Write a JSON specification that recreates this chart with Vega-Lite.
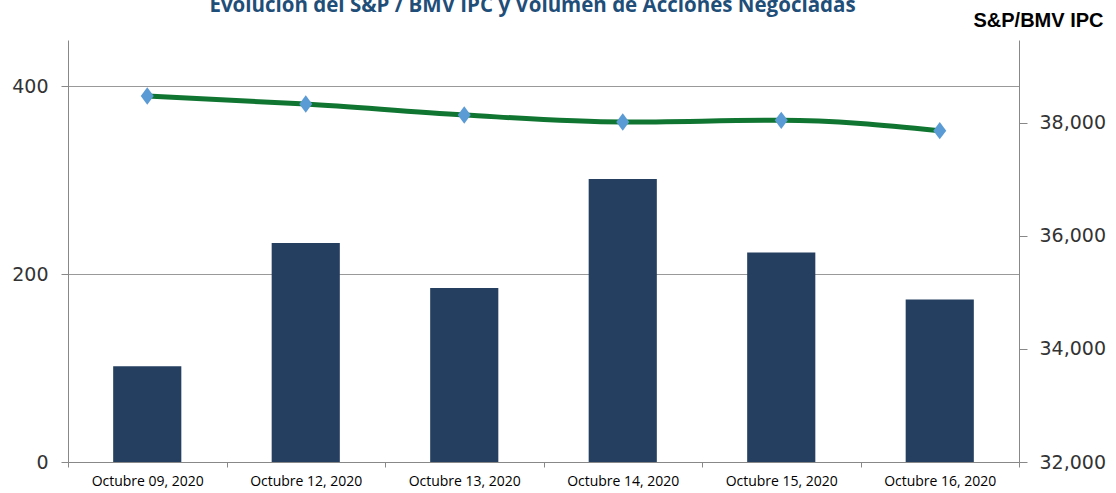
{
  "$schema": "https://vega.github.io/schema/vega-lite/v6.json",
  "width": 951,
  "height": 422,
  "autosize": {"type": "none"},
  "padding": {"left": 68, "top": 40, "right": 97, "bottom": 31},
  "background": "white",
  "title": {
    "text": "Evolución del S&P / BMV IPC y Volumen de Acciones Negociadas",
    "font": "Open Sans",
    "fontSize": 20.5,
    "fontWeight": "bold",
    "color": "#1F4E79",
    "anchor": "middle",
    "frame": "group",
    "baseline": "alphabetic",
    "offset": -2,
    "dx": -11,
    "dy": 20
  },
  "data": {
    "values": [
      {"fecha": "Octubre 09, 2020", "volumen": 102, "ipc": 38478},
      {"fecha": "Octubre 12, 2020", "volumen": 233, "ipc": 38336},
      {"fecha": "Octubre 13, 2020", "volumen": 185, "ipc": 38142},
      {"fecha": "Octubre 14, 2020", "volumen": 301, "ipc": 38018},
      {"fecha": "Octubre 15, 2020", "volumen": 223, "ipc": 38048},
      {"fecha": "Octubre 16, 2020", "volumen": 173, "ipc": 37864}
    ]
  },
  "encoding": {
    "x": {
      "field": "fecha",
      "type": "nominal",
      "sort": null,
      "scale": {"paddingInner": 0, "paddingOuter": 0},
      "axis": {
        "title": null,
        "labelAngle": 0,
        "tickBand": "extent",
        "tickSize": 5,
        "tickColor": "#888",
        "domainColor": "#888",
        "labelFont": "Open Sans",
        "labelFontSize": 14,
        "labelColor": "#000",
        "labelPadding": 7
      }
    }
  },
  "layer": [
    {
      "mark": {"type": "bar", "color": "#243F60", "width": {"band": 0.43}},
      "encoding": {
        "y": {
          "field": "volumen",
          "type": "quantitative",
          "scale": {"domain": [0, 449], "nice": false},
          "axis": {
            "orient": "left",
            "title": null,
            "values": [0, 200, 400],
            "grid": true,
            "gridColor": "#999",
            "domainColor": "#888",
            "tickColor": "#888",
            "tickSize": 7,
            "labelFont": "DejaVu Sans",
            "labelFontSize": 19,
            "labelColor": "#333",
            "labelPadding": 13
          }
        }
      }
    },
    {
      "layer": [
        {
          "mark": {"type": "line", "color": "#0F7531", "strokeWidth": 5, "interpolate": "monotone"},
          "encoding": {
            "y": {
              "field": "ipc",
              "type": "quantitative",
              "scale": {"domain": [32000, 39469], "nice": false, "zero": false},
              "axis": {
                "orient": "right",
                "values": [32000, 34000, 36000, 38000],
                "format": ",.0f",
                "grid": false,
                "domainColor": "#888",
                "tickColor": "#888",
                "tickSize": 8,
                "labelFont": "DejaVu Sans",
                "labelFontSize": 19,
                "labelColor": "#333",
                "labelPadding": 12,
                "title": "S&P/BMV IPC",
                "titleAngle": 0,
                "titleX": 19,
                "titleY": -20,
                "titleAlign": "center",
                "titleBaseline": "middle",
                "titleFont": "Liberation Sans",
                "titleFontSize": 20,
                "titleFontWeight": "bold",
                "titleColor": "#000"
              }
            }
          }
        },
        {
          "mark": {"type": "point", "shape": "M0,-1L0.75,0L0,1L-0.75,0Z", "filled": true, "color": "#5B9BD5", "size": 300, "opacity": 1},
          "encoding": {
            "y": {"field": "ipc", "type": "quantitative"}
          }
        }
      ]
    }
  ],
  "resolve": {"scale": {"y": "independent"}},
  "config": {"view": {"stroke": null}}
}
